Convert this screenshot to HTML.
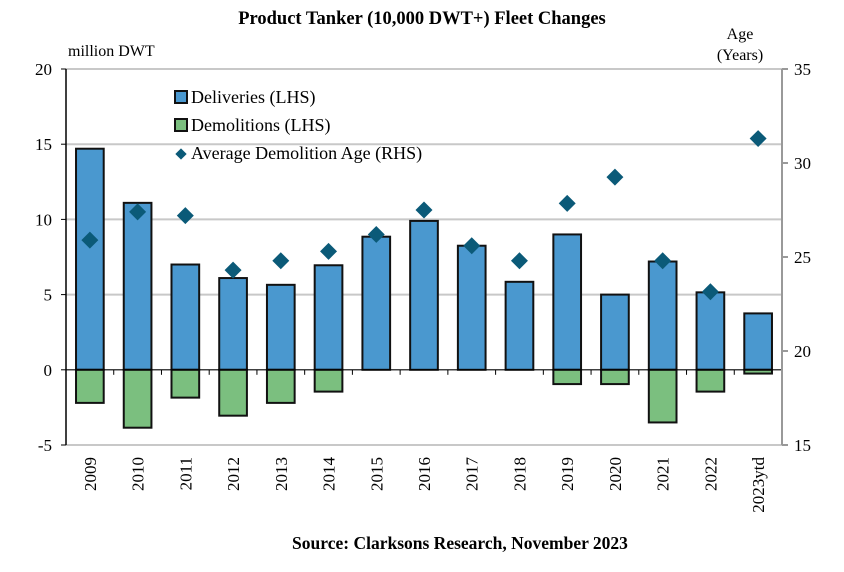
<!DOCTYPE html>
<html><head><meta charset="utf-8"><style>
body{margin:0;background:#fff}
svg{display:block;font-family:"Liberation Serif",serif}
</style></head><body>
<svg id="chart" width="844" height="572">
<text x="422" y="24" text-anchor="middle" font-size="18.5" font-weight="bold">Product Tanker (10,000 DWT+) Fleet Changes</text>
<text x="68" y="56" font-size="16">million DWT</text>
<text x="740" y="39" text-anchor="middle" font-size="16">Age</text>
<text x="740" y="60" text-anchor="middle" font-size="16">(Years)</text>
<g id="grid"></g><g id="bars"></g><g id="axes"></g><g id="points"></g>
<g>
<rect x="175" y="91" width="12" height="12" fill="#4a98cf" stroke="#111" stroke-width="2"/>
<text x="191" y="103" font-size="18">Deliveries (LHS)</text>
<rect x="175" y="119" width="12" height="12" fill="#7bbf7f" stroke="#111" stroke-width="2"/>
<text x="191" y="131" font-size="18">Demolitions (LHS)</text>
<rect x="177" y="150" width="8" height="8" fill="#0b5a78" transform="rotate(45 181 154)"/>
<text x="191" y="159" font-size="18">Average Demolition Age (RHS)</text>
</g>
<text x="460" y="549" text-anchor="middle" font-size="17.5" font-weight="bold">Source: Clarksons Research, November 2023</text>
</svg>
<script>
const categories=["2009","2010","2011","2012","2013","2014","2015","2016","2017","2018","2019","2020","2021","2022","2023ytd"];
const deliveries=[14.7,11.1,7.0,6.1,5.65,6.95,8.85,9.9,8.25,5.85,9.0,5.0,7.2,5.15,3.75];
const demolitions=[-2.2,-3.85,-1.85,-3.05,-2.2,-1.45,0,0,0,0,-0.95,-0.95,-3.5,-1.45,-0.25];
const ages=[25.9,27.4,27.2,24.3,24.8,25.3,26.2,27.5,25.6,24.8,27.85,29.25,24.8,23.15,31.3];
const leftTicks=[-5,0,5,10,15,20];
const rightTicks=[15,20,25,30,35];
const X0=66,X1=782,YT=69,YB=445;
const slot=(X1-X0)/categories.length;
const xc=i=>X0+slot*(i+0.5);
const yL=v=>YB-(v+5)/25*(YB-YT);
const yR=v=>YB-(v-15)/20*(YB-YT);
const NS="http://www.w3.org/2000/svg";
function mk(p,t,a){const e=document.createElementNS(NS,t);for(const k in a)e.setAttribute(k,a[k]);document.getElementById(p).appendChild(e);return e;}
leftTicks.forEach(v=>{
 if(v!==0){const g=mk("grid","line",{x1:X0,x2:X1,y1:yL(v),y2:yL(v),stroke:"#c8c8c8","stroke-width":2});
 
 }
 const t=mk("axes","text",{x:X0-14,y:yL(v)+6,"text-anchor":"end","font-size":17});t.textContent=v;
 
 
 mk("axes","line",{x1:X0-5,x2:X0,y1:yL(v),y2:yL(v),stroke:"#000"});
});
rightTicks.forEach(v=>{
 const t=mk("axes","text",{x:X1+12,y:yR(v)+6,"font-size":17});t.textContent=v;
 
 
 mk("axes","line",{x1:X1,x2:X1+6,y1:yR(v),y2:yR(v),stroke:"#999","stroke-width":2});
});
const bw=slot*0.58;
categories.forEach((c,i)=>{
 const d=mk("bars","rect",{x:xc(i)-bw/2,y:yL(deliveries[i]),width:bw,height:yL(0)-yL(deliveries[i]),fill:"#4a98cf",stroke:"#111","stroke-width":2});
 
 
 if(demolitions[i]<0){const m=mk("bars","rect",{x:xc(i)-bw/2,y:yL(0),width:bw,height:yL(demolitions[i])-yL(0),fill:"#7bbf7f",stroke:"#111","stroke-width":2});
 
 }
 const x=xc(i),y=yR(ages[i]);
 const p=mk("points","rect",{x:x-6,y:y-6,width:12,height:12,fill:"#0b5a78",transform:`rotate(45 ${x} ${y})`});
 
 
 const t=mk("axes","text",{x:0,y:0,"text-anchor":"end","font-size":17,transform:`translate(${x+6},457) rotate(-90)`});t.textContent=c;
 
 
 if(i>0)mk("axes","line",{x1:X0+slot*i,x2:X0+slot*i,y1:yL(0),y2:yL(0)+5,stroke:"#000"});
});
mk("axes","line",{x1:X0,x2:X1,y1:yL(0),y2:yL(0),stroke:"#000","stroke-width":1.2});
mk("axes","line",{x1:X0,x2:X0,y1:YT,y2:YB,stroke:"#000","stroke-width":1.5});
mk("axes","line",{x1:X1,x2:X1,y1:YT,y2:YB,stroke:"#999","stroke-width":2});
</script>
</body></html>
